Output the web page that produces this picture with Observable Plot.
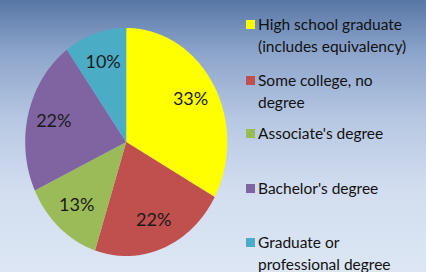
<!DOCTYPE html>
<html>
<head>
<meta charset="utf-8">
<script src="https://cdn.jsdelivr.net/npm/d3@7"></script>
<script src="https://cdn.jsdelivr.net/npm/@observablehq/plot@0.6"></script>
<style>
  html, body { margin: 0; padding: 0; }
  #wrap {
    position: relative; width: 426px; height: 272px; overflow: hidden;
    background: linear-gradient(to bottom, #5877a6 0%, #8ea6cc 20%, #b8c9e3 45%, #d2ddef 70%, #dce6f4 100%);
    font-family: Lato, "Open Sans", sans-serif;
  }
  #chart svg { display: block; background: none; }
  #legend { position: absolute; left: 246px; top: 0; width: 180px; }
  .item { position: absolute; left: 0; font-size: 15.5px; line-height: 22px; color: #111; }
  .sw { position: absolute; left: 0; top: 7px; width: 9px; height: 9px; }
  .txt { position: absolute; left: 12px; top: 0; white-space: nowrap; }
</style>
</head>
<body>
<div id="wrap">
  <div id="chart"></div>
  <div id="legend"></div>
</div>
<script>
const categories = [
  "High school graduate (includes equivalency)",
  "Some college, no degree",
  "Associate's degree",
  "Bachelor's degree",
  "Graduate or professional degree"
];
const legendLines = [
  ["High school graduate", "(includes equivalency)"],
  ["Some college, no", "degree"],
  ["Associate's degree"],
  ["Bachelor's degree"],
  ["Graduate or", "professional degree"]
];
const values = [33, 22, 13, 22, 10];
const colors = ["#ffff00", "#c0504d", "#9bbb59", "#8064a2", "#4bacc6"];

const total = d3.sum(values);
let acc = 0;
const wedgePts = [];
const labels = [];
values.forEach((v, i) => {
  const a0 = acc / total * 2 * Math.PI;
  acc += v;
  const a1 = acc / total * 2 * Math.PI;
  const n = Math.max(2, Math.ceil((a1 - a0) / 0.02));
  wedgePts.push({cat: categories[i], x: 0, y: 0});
  for (let k = 0; k <= n; k++) {
    const a = a0 + (a1 - a0) * k / n;
    wedgePts.push({cat: categories[i], x: Math.sin(a), y: Math.cos(a)});
  }
  wedgePts.push({cat: categories[i], x: 0, y: 0});
  const am = (a0 + a1) / 2;
  const f = 0.74;
  labels.push({cat: categories[i], x: f * Math.sin(am), y: f * Math.cos(am), text: Math.round(v / total * 100) + "%"});
});

const cx = 125.7, cy = 141.5, rx = 101, ry = 114;
const chart = Plot.plot({
  width: 426,
  height: 272,
  margin: 0,
  style: {background: "none", overflow: "visible"},
  x: {domain: [-1, 1], range: [cx - rx, cx + rx], axis: null},
  y: {domain: [-1, 1], range: [cy + ry, cy - ry], axis: null},
  color: {domain: categories, range: colors},
  marks: [
    Plot.line(wedgePts, {x: "x", y: "y", z: "cat", fill: "cat", stroke: "none", curve: "linear"}),
    Plot.text(labels, {x: "x", y: "y", text: "text", fill: "#1a1a1a", fontSize: 18,
      fontFamily: "Lato, sans-serif"})
  ]
});
document.getElementById("chart").appendChild(chart);

const legendTops = [13, 69, 122, 177, 231];
const lg = document.getElementById("legend");
legendLines.forEach((lines, i) => {
  const it = document.createElement("div");
  it.className = "item";
  it.style.top = legendTops[i] + "px";
  const sw = document.createElement("div");
  sw.className = "sw";
  sw.style.background = colors[i];
  it.appendChild(sw);
  const t = document.createElement("div");
  t.className = "txt";
  t.innerHTML = lines.join("<br>");
  it.appendChild(t);
  lg.appendChild(it);
});
</script>
</body>
</html>
